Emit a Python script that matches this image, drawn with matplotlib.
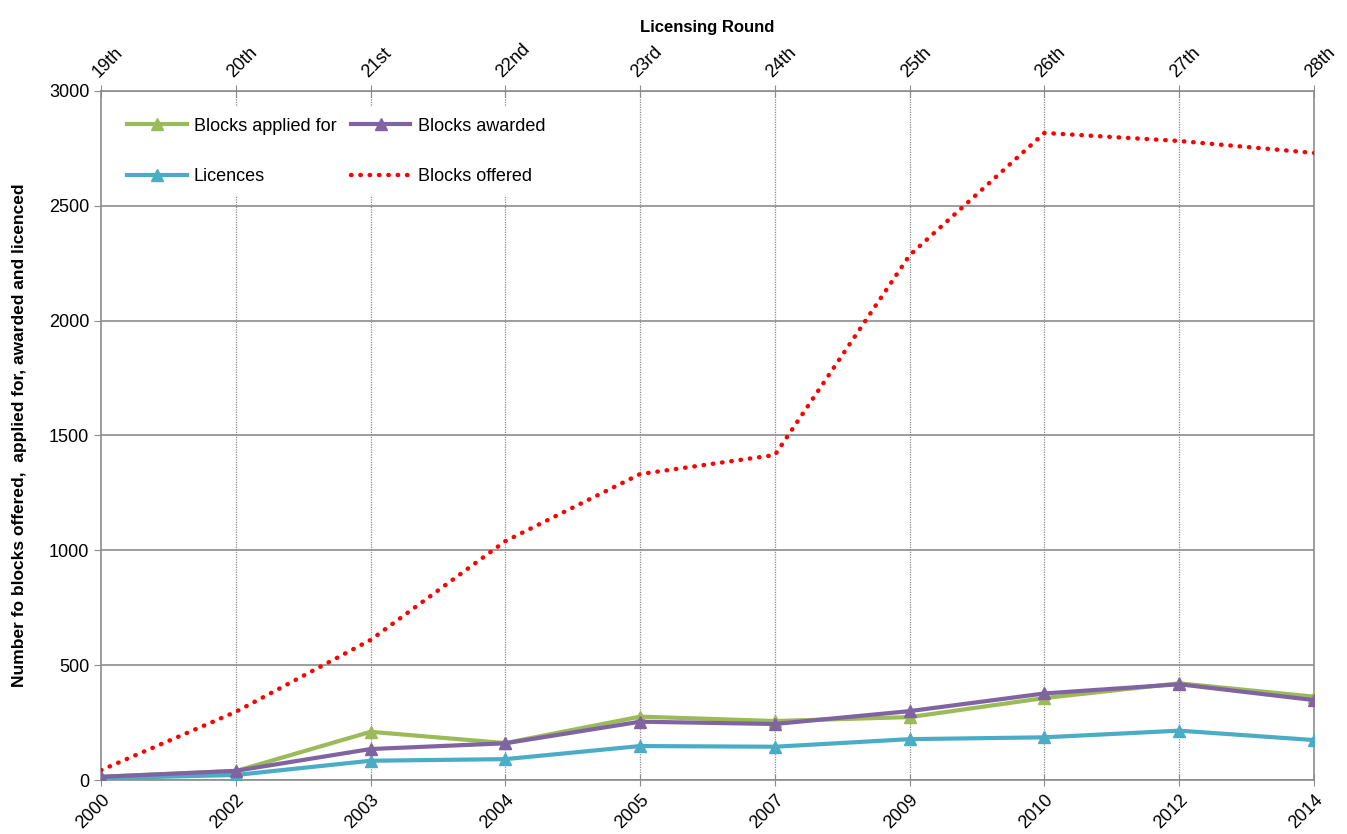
import numpy as np
import matplotlib.pyplot as plt

plt.rcParams['font.family'] = ['Liberation Sans', 'DejaVu Sans']

years = ['2000', '2002', '2003', '2004', '2005', '2007', '2009', '2010', '2012', '2014']
rounds = ['19th', '20th', '21st', '22nd', '23rd', '24th', '25th', '26th', '27th', '28th']

applied = [14, 39, 210, 161, 276, 257, 274, 357, 421, 363]
awarded = [14, 40, 135, 160, 254, 244, 300, 377, 417, 348]
licences = [8, 22, 84, 91, 148, 145, 178, 186, 215, 174]
offered = [43, 297, 610, 1040, 1332, 1415, 2285, 2817, 2782, 2730]

x = np.arange(len(years))

fig = plt.figure(figsize=(13.47, 8.34), dpi=100)
ax = fig.add_axes([0.075, 0.0647, 0.9005, 0.8263])

gray = '#8c8c8c'
ax.set_ylim(0, 3000)
ax.set_xlim(x[0], x[-1])
ax.set_yticks(np.arange(0, 3001, 500))
ax.grid(axis='y', color=gray, linewidth=1.2, linestyle='-')
for xi in x[1:-1]:
    ax.axvline(xi, color=gray, linewidth=0.9, linestyle=(0, (1, 1)), zorder=0.5)
ax.set_axisbelow(True)

l1, = ax.plot(x, applied, color='#9BBB59', lw=3, marker='^', ms=8, label='Blocks applied for', zorder=3)
l2, = ax.plot(x, awarded, color='#8064A2', lw=3, marker='^', ms=8, label='Blocks awarded', zorder=4)
l3, = ax.plot(x, licences, color='#4BACC6', lw=3, marker='^', ms=8, label='Licences', zorder=3)
l4, = ax.plot(x, offered, color='#FF0000', lw=3.2, linestyle=(0, (0.1, 2.0)), dash_capstyle='round',
              label='Blocks offered', zorder=3)

for s in ax.spines.values():
    s.set_color(gray)
    s.set_linewidth(1.2)

ax.set_xticks(x)
ax.set_xticklabels(years, rotation=45, ha='right', rotation_mode='anchor', fontsize=13)
ax.tick_params(axis='x', direction='inout', length=8, color=gray, pad=4)
ax.tick_params(axis='y', direction='out', length=5, color=gray, labelsize=13)

top = ax.secondary_xaxis('top')
top.set_xticks(x)
top.set_xticklabels(rounds, rotation=45, ha='left', rotation_mode='anchor', fontsize=13)
top.tick_params(direction='inout', length=8, color=gray)
top.spines['top'].set_visible(False)
top.set_xlabel('Licensing Round', fontsize=12, fontweight='bold', labelpad=6)

ax.set_ylabel('Number fo blocks offered,  applied for, awarded and licenced',
              fontsize=12.5, fontweight='bold', labelpad=16)

leg = ax.legend([l1, l3, l2, l4], [l.get_label() for l in (l1, l3, l2, l4)],
                loc='upper left', ncol=2, frameon=True, fontsize=13,
                bbox_to_anchor=(0.005, 0.99), handlelength=3.3, handletextpad=0.4,
                columnspacing=0.8, labelspacing=1.85, borderpad=0.6)
leg.get_frame().set_edgecolor('none')
leg.get_frame().set_facecolor('white')
leg.get_frame().set_alpha(1)
leg.set_zorder(5)

fig.savefig('out.png', dpi=100)
